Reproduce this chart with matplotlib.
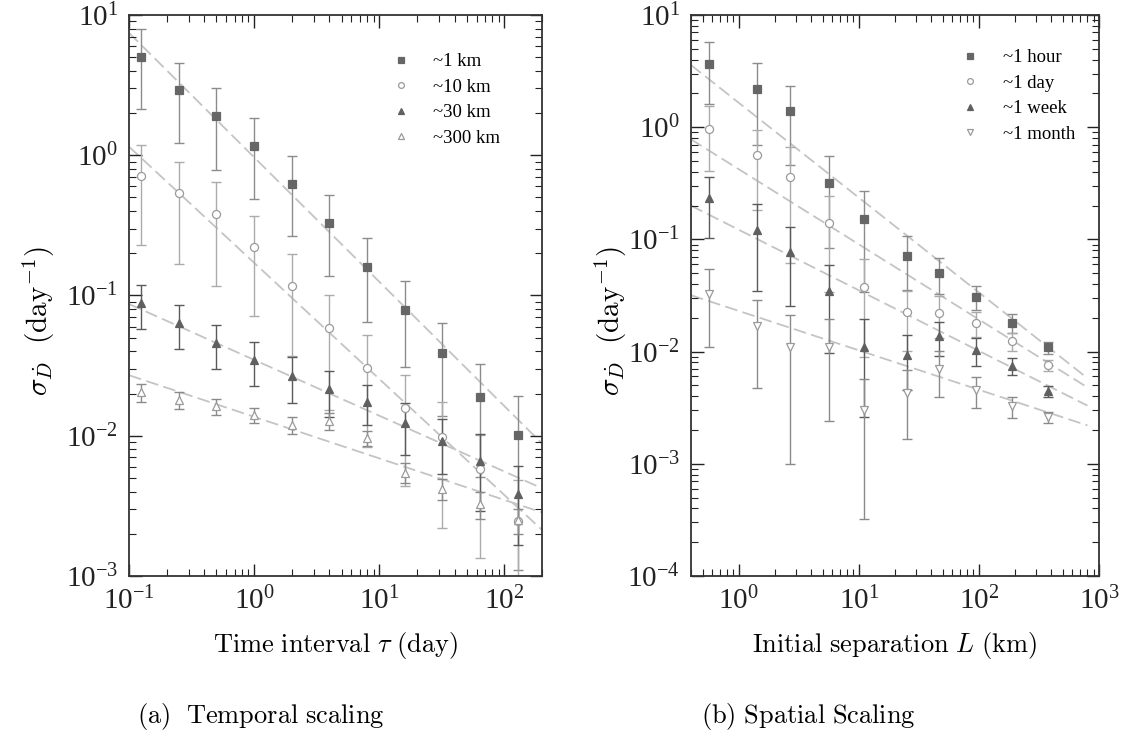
import numpy as np
import matplotlib
matplotlib.use("Agg")
import matplotlib.pyplot as plt

plt.rcParams['mathtext.fontset'] = 'cm'
plt.rcParams['font.family'] = 'serif'
plt.rcParams['font.serif'] = ['Liberation Serif', 'DejaVu Serif']

# ---- (a) temporal scaling: sigma vs time interval tau (day) ----
tau = [0.125, 0.25, 0.5, 1, 2, 4, 8, 16, 32, 64, 128]
a_labels = ['~1 km', '~10 km', '~30 km', '~300 km']
a_mean = [
    [5.04, 2.90, 1.91, 1.17, 0.624, 0.327, 0.160, 0.079, 0.0388, 0.0188, 0.0102],
    [0.708, 0.535, 0.383, 0.221, 0.117, 0.0583, 0.0303, 0.0158, 0.0098, 0.00575, 0.00247],
    [0.0881, 0.0638, 0.0459, 0.0347, 0.0268, 0.0214, 0.0175, 0.01225, 0.00925, 0.00662, 0.00387],
    [0.0204, 0.0181, 0.0162, 0.0141, 0.0119, 0.0128, 0.0097, 0.00547, 0.0042, 0.00325, 0.0025],
]
a_std = [
    [2.9, 1.68, 1.13, 0.68, 0.36, 0.19, 0.095, 0.048, 0.025, 0.0137, 0.0091],
    [0.48, 0.366, 0.266, 0.15, 0.08, 0.043, 0.022, 0.0114, 0.0076, 0.0044, 0.0024],
    [0.03, 0.022, 0.016, 0.0122, 0.0097, 0.0077, 0.0055, 0.0049, 0.0039, 0.0037, 0.0022],
    [0.0029, 0.0025, 0.0022, 0.0018, 0.0016, 0.0018, 0.0012, 0.0009, 0.0007, 0.0007, 0.0005],
]
# fitted power laws, end points
a_fit_x = [0.1, 200]
a_fit_y = [[7.45, 0.0088], [1.15, 0.00213], [0.0869, 0.00422], [0.027, 0.00284]]

# ---- (b) spatial scaling: sigma vs initial separation L (km) ----
sep = [0.56, 1.41, 2.66, 5.62, 11.1, 25.4, 46.1, 94.4, 188, 378]
b_labels = ['~1 hour', '~1 day', '~1 week', '~1 month']
b_mean = [
    [3.66, 2.2, 1.39, 0.318, 0.152, 0.0716, 0.0501, 0.0309, 0.0181, 0.0109],
    [0.97, 0.562, 0.362, 0.139, 0.0377, 0.0224, 0.0222, 0.0181, 0.0124, 0.00758],
    [0.232, 0.121, 0.0773, 0.0347, 0.0111, 0.00933, 0.0138, 0.0103, 0.00744, 0.00446],
    [0.0326, 0.0169, 0.0111, 0.0109, 0.00302, 0.00425, 0.00705, 0.00455, 0.00327, 0.0026],
]
b_std = [
    [2.05, 1.5, 0.93, 0.235, 0.118, 0.036, 0.0176, 0.0073, 0.0034, 0.0013],
    [0.56, 0.38, 0.3, 0.105, 0.0287, 0.0123, 0.009, 0.0046, 0.0023, 0.0009],
    [0.13, 0.086, 0.052, 0.025, 0.0085, 0.0048, 0.0047, 0.0028, 0.0013, 0.0005],
    [0.0216, 0.0122, 0.0101, 0.0085, 0.0027, 0.0026, 0.0031, 0.0014, 0.0007, 0.0003],
]
b_fit_x = [0.4, 800]
b_fit_y = [[3.58, 0.0058], [0.78, 0.0048], [0.2, 0.0033], [0.0318, 0.0022]]

# marker styles per series
a_styles = [
    dict(marker='s', mfc='#666666', mec='#666666', ecolor='#8c8c8c'),
    dict(marker='o', mfc='white', mec='#9a9a9a', ecolor='#ababab'),
    dict(marker='^', mfc='#606060', mec='#606060', ecolor='#5a5a5a'),
    dict(marker='^', mfc='white', mec='#9a9a9a', ecolor='#8a8a8a'),
]
b_styles = [dict(s) for s in a_styles]
b_styles[3]['marker'] = 'v'

fig = plt.figure(figsize=(11.37, 7.38), dpi=100)
ax1 = fig.add_axes([0.1135, 0.2195, 0.3632, 0.7602])
ax2 = fig.add_axes([0.6077, 0.2195, 0.3589, 0.7602])


def draw_panel(ax, x, means, stds, labels, styles, fit_x, fit_y, anchor, ylab_x):
    for fy in fit_y:
        ax.plot(fit_x, fy, color='#c4c4c4', lw=1.3, dashes=(7, 3), zorder=1)
    handles = []
    for m, s, st in zip(means, stds, styles):
        ax.errorbar(x, m, yerr=s, fmt='none', ecolor=st['ecolor'],
                    elinewidth=1.0, capsize=3.5, capthick=1.0, zorder=2)
        h, = ax.plot(x, m, ls='none', marker=st['marker'], ms=5.8,
                     mfc=st['mfc'], mec=st['mec'], mew=0.9, zorder=3)
        handles.append(h)
    ax.set_xscale('log')
    ax.set_yscale('log', nonpositive='clip')
    ax.tick_params(which='both', direction='in', top=True, right=True,
                   labelsize=21, colors='#222222', pad=8)
    ax.tick_params(which='major', length=9, width=1.0)
    ax.tick_params(which='minor', length=5, width=0.8)
    for sp in ax.spines.values():
        sp.set_linewidth(1.3)
        sp.set_color('#333333')
    ax.legend(handles, labels, loc='upper right', frameon=False,
              markerscale=0.72, handlelength=1.0,
              handletextpad=1.25, labelspacing=0.45,
              bbox_to_anchor=anchor,
              prop={'family': 'Liberation Serif', 'size': 13.5})
    ax.set_ylabel(r'$\sigma_{\dot{D}}\ \ \mathrm{(day^{-1})}$', fontsize=21)
    ax.yaxis.set_label_coords(ylab_x, 0.455)


draw_panel(ax1, tau, a_mean, a_std, a_labels, a_styles, a_fit_x, a_fit_y,
           (0.94, 0.962), -0.174)
ax1.set_xlim(0.1, 200)
ax1.set_ylim(1e-3, 10)
ax1.set_xlabel(r'$\mathrm{Time\ interval\ }\tau\mathrm{\ (day)}$', fontsize=19, labelpad=10)

draw_panel(ax2, sep, b_mean, b_std, b_labels, b_styles, b_fit_x, b_fit_y,
           (0.982, 0.969), -0.152)
ax2.set_xlim(0.4, 1000)
ax2.set_ylim(1e-4, 10)
ax2.set_xlabel(r'$\mathrm{Initial\ separation\ }L\mathrm{\ (km)}$', fontsize=19, labelpad=10)

fig.text(0.229, 0.02, r'$\mathrm{(a)\ \ Temporal\ scaling}$', fontsize=19, ha='center')
fig.text(0.711, 0.02, r'$\mathrm{(b)\ Spatial\ Scaling}$', fontsize=19, ha='center')

fig.savefig('out.png', dpi=100)
